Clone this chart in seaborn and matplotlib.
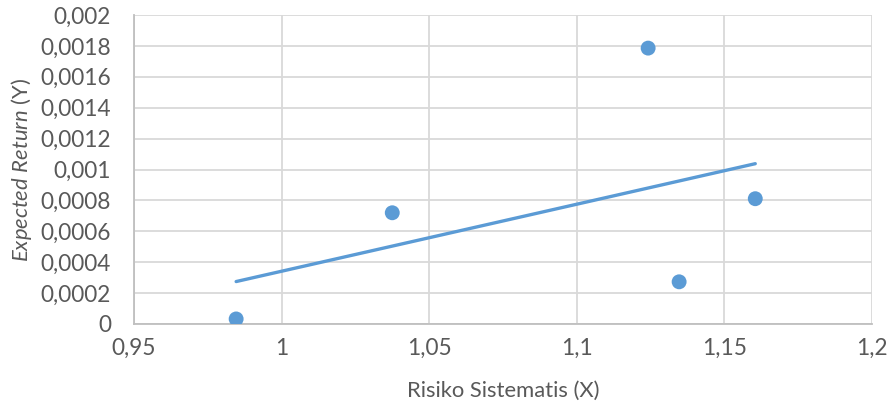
import matplotlib
matplotlib.use("Agg")
import matplotlib.pyplot as plt
import seaborn as sns
import pandas as pd
from matplotlib.ticker import FuncFormatter, MultipleLocator

# data
risiko = [0.9846, 1.0375, 1.1242, 1.1347, 1.1605]
expected_return = [0.0000325, 0.00072, 0.001786, 0.000273, 0.000811]

df = pd.DataFrame({"x": risiko, "y": expected_return})

sns.set_style("white")
plt.rcParams['font.family'] = ['Lato', 'DejaVu Sans']
plt.rcParams['mathtext.fontset'] = 'custom'
plt.rcParams['mathtext.rm'] = 'Lato'
plt.rcParams['mathtext.it'] = 'Lato:italic'

fig = plt.figure(figsize=(8.9, 4.07), dpi=100)
ax = fig.add_axes([0.1506, 0.204, 0.829, 0.759])

blue = "#5B9BD5"
sns.regplot(data=df, x="x", y="y", ax=ax, ci=None,
            scatter_kws={"s": 115, "color": blue, "alpha": 1, "edgecolor": "none", "zorder": 4},
            line_kws={"color": blue, "lw": 2.4, "zorder": 3})

ax.set_xlim(0.95, 1.2)
ax.set_ylim(0, 0.002)
ax.xaxis.set_major_locator(MultipleLocator(0.05))
ax.yaxis.set_major_locator(MultipleLocator(0.0002))
fmt = FuncFormatter(lambda v, p: "{:g}".format(round(v, 6)).replace(".", ","))
ax.xaxis.set_major_formatter(fmt)
ax.yaxis.set_major_formatter(fmt)

ax.grid(True, color="#d9d9d9", lw=1.3)
ax.set_axisbelow(True)
for s in ["top", "right"]:
    ax.spines[s].set_visible(False)
for s in ["left", "bottom"]:
    ax.spines[s].set_color("#bfbfbf")
    ax.spines[s].set_linewidth(1.3)

ax.tick_params(length=0, labelsize=16.3, labelcolor="#595959")
ax.tick_params(axis="x", pad=10)
ax.tick_params(axis="y", pad=16.5)
ax.set_xlabel("Risiko Sistematis (X)", fontsize=15.8, color="#595959", labelpad=16)
ax.set_ylabel(r"$\mathit{Expected\ Return}$ (Y)", fontsize=15.8, color="#595959", labelpad=5)

fig.savefig("out.png", dpi=100)
